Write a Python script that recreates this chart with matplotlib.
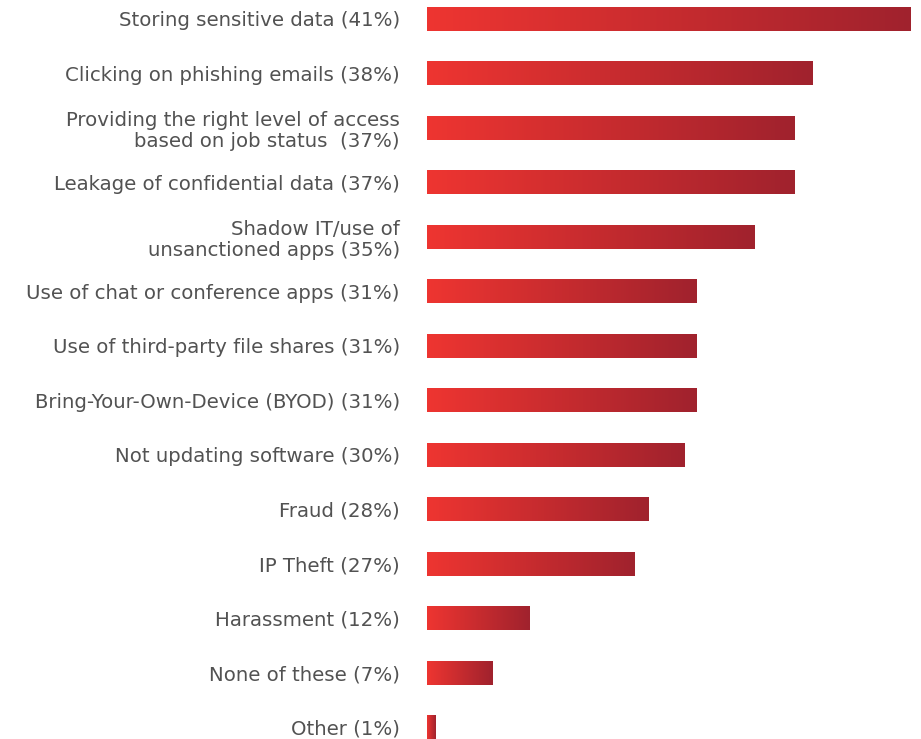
import numpy as np
import matplotlib
matplotlib.use("Agg")
import matplotlib.pyplot as plt
from matplotlib.colors import LinearSegmentedColormap

# Category labels (as printed, including the survey percentage)
labels = [
    "Storing sensitive data (41%)",
    "Clicking on phishing emails (38%)",
    "Providing the right level of access\nbased on job status  (37%)",
    "Leakage of confidential data (37%)",
    "Shadow IT/use of\nunsanctioned apps (35%)",
    "Use of chat or conference apps (31%)",
    "Use of third-party file shares (31%)",
    "Bring-Your-Own-Device (BYOD) (31%)",
    "Not updating software (30%)",
    "Fraud (28%)",
    "IP Theft (27%)",
    "Harassment (12%)",
    "None of these (7%)",
    "Other (1%)",
]
# Bar lengths as drawn in the picture (relative units, top bar = 41)
bar_values = [41.0, 32.7, 31.2, 31.2, 27.8, 22.9, 22.9, 22.9, 21.9, 18.8, 17.6, 8.7, 5.6, 0.76]

W, H = 921, 739
fig = plt.figure(figsize=(W / 100, H / 100), dpi=100)
ax_left, ax_right = 427, 910
ax_top, ax_bottom = 7, 739
ax = fig.add_axes([ax_left / W, (H - ax_bottom) / H, (ax_right - ax_left) / W, (ax_bottom - ax_top) / H])

n = len(labels)
y = np.arange(n)
h = 0.44
bars = ax.barh(y, bar_values, height=h, facecolor="none", edgecolor="none")

cmap = LinearSegmentedColormap.from_list("redgrad", ["#EE3531", "#A0222D"])
grad = np.linspace(0, 1, 256).reshape(1, -1)
for b in bars:
    x0, y0 = b.get_x(), b.get_y()
    w, hh = b.get_width(), b.get_height()
    im = ax.imshow(grad, cmap=cmap, aspect="auto", extent=[x0, x0 + w, y0 + hh, y0],
                   interpolation="bilinear", zorder=2)
    im.set_clip_path(b)
ax.set_xlim(0, max(bar_values))
ax.set_ylim(n - 1 + h / 2, -h / 2)

ax.set_yticks(y)
ax.set_yticklabels(labels, fontsize=14.2, color="#525252", linespacing=1.12,
                   family=["DejaVu Sans"])
ax.tick_params(axis="y", length=0, pad=19.5)
ax.set_xticks([])
for s in ax.spines.values():
    s.set_visible(False)

fig.savefig("out.png", dpi=100)
